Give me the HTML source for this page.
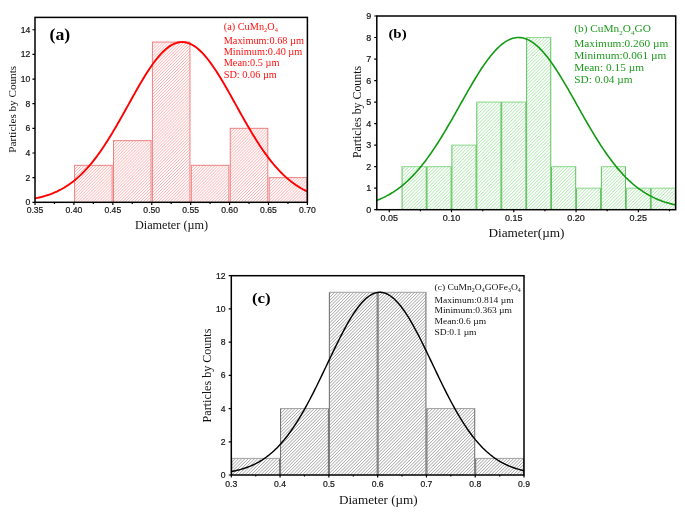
<!DOCTYPE html>
<html><head><meta charset="utf-8"><style>
html,body{margin:0;padding:0;background:#fff;overflow:hidden;}
svg{display:block;will-change:transform;filter:blur(0.25px);}

</style></head><body>
<svg width="685" height="517" viewBox="0 0 685 517">
<rect width="685" height="517" fill="#fff"/>
<defs><pattern id="ha" patternUnits="userSpaceOnUse" width="2.1" height="10" patternTransform="rotate(45)"><rect x="0" y="0" width="0.75" height="10" fill="#ffb2b2"/></pattern></defs>
<rect x="74.6" y="165.32" width="37.55" height="36.98" fill="url(#ha)"/>
<path d="M74.6,202.3V165.32M112.15,165.32V202.3" stroke="#ee8080" stroke-width="1.0" fill="none"/>
<path d="M74.1,165.32H112.65" stroke="#ee8080" stroke-width="1.0" fill="none"/>
<rect x="113.51" y="140.67" width="37.55" height="61.63" fill="url(#ha)"/>
<path d="M113.51,202.3V140.67M151.06,140.67V202.3" stroke="#ee8080" stroke-width="1.0" fill="none"/>
<path d="M113.01,140.67H151.56" stroke="#ee8080" stroke-width="1.0" fill="none"/>
<rect x="152.42" y="42.05" width="37.55" height="160.25" fill="url(#ha)"/>
<path d="M152.42,202.3V42.05M189.98,42.05V202.3" stroke="#ee8080" stroke-width="1.0" fill="none"/>
<path d="M151.92,42.05H190.48" stroke="#ee8080" stroke-width="1.0" fill="none"/>
<rect x="191.34" y="165.32" width="37.55" height="36.98" fill="url(#ha)"/>
<path d="M191.34,202.3V165.32M228.89,165.32V202.3" stroke="#ee8080" stroke-width="1.0" fill="none"/>
<path d="M190.84,165.32H229.39" stroke="#ee8080" stroke-width="1.0" fill="none"/>
<rect x="230.25" y="128.34" width="37.55" height="73.96" fill="url(#ha)"/>
<path d="M230.25,202.3V128.34M267.8,128.34V202.3" stroke="#ee8080" stroke-width="1.0" fill="none"/>
<path d="M229.75,128.34H268.3" stroke="#ee8080" stroke-width="1.0" fill="none"/>
<rect x="269.17" y="177.65" width="37.55" height="24.65" fill="url(#ha)"/>
<path d="M269.17,202.3V177.65M306.72,177.65V202.3" stroke="#ee8080" stroke-width="1.0" fill="none"/>
<path d="M268.67,177.65H307.22" stroke="#ee8080" stroke-width="1.0" fill="none"/>
<polyline points="35,198.41 36.36,198.14 37.72,197.84 39.09,197.53 40.45,197.21 41.81,196.86 43.17,196.49 44.53,196.1 45.9,195.69 47.26,195.26 48.62,194.8 49.98,194.32 51.34,193.82 52.71,193.28 54.07,192.72 55.43,192.13 56.79,191.52 58.15,190.87 59.52,190.19 60.88,189.48 62.24,188.73 63.6,187.96 64.96,187.14 66.33,186.29 67.69,185.41 69.05,184.48 70.41,183.52 71.77,182.52 73.14,181.48 74.5,180.39 75.86,179.27 77.22,178.1 78.58,176.89 79.95,175.64 81.31,174.34 82.67,173 84.03,171.61 85.39,170.18 86.76,168.71 88.12,167.18 89.48,165.61 90.84,164 92.2,162.34 93.57,160.64 94.93,158.89 96.29,157.09 97.65,155.26 99.01,153.37 100.38,151.45 101.74,149.48 103.1,147.48 104.46,145.43 105.82,143.34 107.19,141.22 108.55,139.06 109.91,136.86 111.27,134.64 112.63,132.38 114,130.09 115.36,127.77 116.72,125.43 118.08,123.07 119.44,120.68 120.81,118.28 122.17,115.86 123.53,113.43 124.89,110.99 126.25,108.54 127.62,106.09 128.98,103.63 130.34,101.18 131.7,98.73 133.06,96.29 134.43,93.87 135.79,91.46 137.15,89.06 138.51,86.69 139.87,84.34 141.24,82.03 142.6,79.74 143.96,77.5 145.32,75.29 146.68,73.12 148.05,71.01 149.41,68.94 150.77,66.93 152.13,64.97 153.49,63.07 154.86,61.24 156.22,59.48 157.58,57.78 158.94,56.16 160.3,54.61 161.67,53.15 163.03,51.76 164.39,50.46 165.75,49.24 167.11,48.12 168.48,47.08 169.84,46.14 171.2,45.29 172.56,44.54 173.92,43.88 175.29,43.33 176.65,42.87 178.01,42.51 179.37,42.26 180.73,42.1 182.1,42.05 183.46,42.1 184.82,42.26 186.18,42.51 187.54,42.87 188.91,43.33 190.27,43.88 191.63,44.54 192.99,45.29 194.35,46.14 195.72,47.08 197.08,48.12 198.44,49.24 199.8,50.46 201.16,51.76 202.53,53.15 203.89,54.61 205.25,56.16 206.61,57.78 207.97,59.48 209.34,61.24 210.7,63.07 212.06,64.97 213.42,66.93 214.78,68.94 216.15,71.01 217.51,73.12 218.87,75.29 220.23,77.5 221.59,79.74 222.96,82.03 224.32,84.34 225.68,86.69 227.04,89.06 228.4,91.46 229.77,93.87 231.13,96.29 232.49,98.73 233.85,101.18 235.21,103.63 236.58,106.09 237.94,108.54 239.3,110.99 240.66,113.43 242.02,115.86 243.39,118.28 244.75,120.68 246.11,123.07 247.47,125.43 248.83,127.77 250.2,130.09 251.56,132.38 252.92,134.64 254.28,136.86 255.64,139.06 257.01,141.22 258.37,143.34 259.73,145.43 261.09,147.48 262.45,149.48 263.82,151.45 265.18,153.37 266.54,155.26 267.9,157.09 269.26,158.89 270.63,160.64 271.99,162.34 273.35,164 274.71,165.61 276.07,167.18 277.44,168.71 278.8,170.18 280.16,171.61 281.52,173 282.88,174.34 284.25,175.64 285.61,176.89 286.97,178.1 288.33,179.27 289.69,180.39 291.06,181.48 292.42,182.52 293.78,183.52 295.14,184.48 296.5,185.41 297.87,186.29 299.23,187.14 300.59,187.96 301.95,188.73 303.31,189.48 304.68,190.19 306.04,190.87 307.4,191.52" fill="none" stroke="#ff0000" stroke-width="1.9" stroke-linejoin="round"/>
<rect x="35" y="17.4" width="272.4" height="184.9" fill="none" stroke="#000" stroke-width="1.5"/>
<path d="M35,202.3h-2.6M35,177.65h-2.6M35,152.99h-2.6M35,128.34h-2.6M35,103.69h-2.6M35,79.03h-2.6M35,54.38h-2.6M35,29.73h-2.6M35,202.3v2.6M73.91,202.3v2.6M112.83,202.3v2.6M151.74,202.3v2.6M190.66,202.3v2.6M229.57,202.3v2.6M268.49,202.3v2.6M307.4,202.3v2.6M54.46,202.3v1.6M93.37,202.3v1.6M132.29,202.3v1.6M171.2,202.3v1.6M210.11,202.3v1.6M249.03,202.3v1.6M287.94,202.3v1.6" stroke="#000" stroke-width="1.2" fill="none"/>
<text x="30.2" y="205.31" text-anchor="end" font-family="Liberation Sans, sans-serif" font-size="8.6" fill="#151515" stroke="#151515" stroke-width="0.2">0</text>
<text x="30.2" y="180.66" text-anchor="end" font-family="Liberation Sans, sans-serif" font-size="8.6" fill="#151515" stroke="#151515" stroke-width="0.2">2</text>
<text x="30.2" y="156" text-anchor="end" font-family="Liberation Sans, sans-serif" font-size="8.6" fill="#151515" stroke="#151515" stroke-width="0.2">4</text>
<text x="30.2" y="131.35" text-anchor="end" font-family="Liberation Sans, sans-serif" font-size="8.6" fill="#151515" stroke="#151515" stroke-width="0.2">6</text>
<text x="30.2" y="106.7" text-anchor="end" font-family="Liberation Sans, sans-serif" font-size="8.6" fill="#151515" stroke="#151515" stroke-width="0.2">8</text>
<text x="30.2" y="82.04" text-anchor="end" font-family="Liberation Sans, sans-serif" font-size="8.6" fill="#151515" stroke="#151515" stroke-width="0.2">10</text>
<text x="30.2" y="57.39" text-anchor="end" font-family="Liberation Sans, sans-serif" font-size="8.6" fill="#151515" stroke="#151515" stroke-width="0.2">12</text>
<text x="30.2" y="32.74" text-anchor="end" font-family="Liberation Sans, sans-serif" font-size="8.6" fill="#151515" stroke="#151515" stroke-width="0.2">14</text>
<text x="35" y="212.8" text-anchor="middle" font-family="Liberation Sans, sans-serif" font-size="8.6" fill="#151515" stroke="#151515" stroke-width="0.2">0.35</text>
<text x="73.91" y="212.8" text-anchor="middle" font-family="Liberation Sans, sans-serif" font-size="8.6" fill="#151515" stroke="#151515" stroke-width="0.2">0.40</text>
<text x="112.83" y="212.8" text-anchor="middle" font-family="Liberation Sans, sans-serif" font-size="8.6" fill="#151515" stroke="#151515" stroke-width="0.2">0.45</text>
<text x="151.74" y="212.8" text-anchor="middle" font-family="Liberation Sans, sans-serif" font-size="8.6" fill="#151515" stroke="#151515" stroke-width="0.2">0.50</text>
<text x="190.66" y="212.8" text-anchor="middle" font-family="Liberation Sans, sans-serif" font-size="8.6" fill="#151515" stroke="#151515" stroke-width="0.2">0.55</text>
<text x="229.57" y="212.8" text-anchor="middle" font-family="Liberation Sans, sans-serif" font-size="8.6" fill="#151515" stroke="#151515" stroke-width="0.2">0.60</text>
<text x="268.49" y="212.8" text-anchor="middle" font-family="Liberation Sans, sans-serif" font-size="8.6" fill="#151515" stroke="#151515" stroke-width="0.2">0.65</text>
<text x="307.4" y="212.8" text-anchor="middle" font-family="Liberation Sans, sans-serif" font-size="8.6" fill="#151515" stroke="#151515" stroke-width="0.2">0.70</text>
<defs><pattern id="hb" patternUnits="userSpaceOnUse" width="2.35" height="10" patternTransform="rotate(45)"><rect x="0" y="0" width="0.8" height="10" fill="#b2eab2"/></pattern></defs>
<rect x="402.08" y="166.66" width="24.16" height="43.04" fill="url(#hb)"/>
<path d="M402.08,209.7V166.66M426.24,166.66V209.7" stroke="#5ec25e" stroke-width="1.0" fill="none"/>
<path d="M401.58,166.66H426.74" stroke="#92da92" stroke-width="1.1" fill="none"/>
<rect x="426.99" y="166.66" width="24.16" height="43.04" fill="url(#hb)"/>
<path d="M426.99,209.7V166.66M451.15,166.66V209.7" stroke="#5ec25e" stroke-width="1.0" fill="none"/>
<path d="M426.49,166.66H451.65" stroke="#92da92" stroke-width="1.1" fill="none"/>
<rect x="451.9" y="145.13" width="24.16" height="64.57" fill="url(#hb)"/>
<path d="M451.9,209.7V145.13M476.06,145.13V209.7" stroke="#5ec25e" stroke-width="1.0" fill="none"/>
<path d="M451.4,145.13H476.56" stroke="#92da92" stroke-width="1.1" fill="none"/>
<rect x="476.81" y="102.09" width="24.16" height="107.61" fill="url(#hb)"/>
<path d="M476.81,209.7V102.09M500.97,102.09V209.7" stroke="#5ec25e" stroke-width="1.0" fill="none"/>
<path d="M476.31,102.09H501.47" stroke="#92da92" stroke-width="1.1" fill="none"/>
<rect x="501.72" y="102.09" width="24.16" height="107.61" fill="url(#hb)"/>
<path d="M501.72,209.7V102.09M525.88,102.09V209.7" stroke="#5ec25e" stroke-width="1.0" fill="none"/>
<path d="M501.22,102.09H526.38" stroke="#92da92" stroke-width="1.1" fill="none"/>
<rect x="526.62" y="37.52" width="24.16" height="172.18" fill="url(#hb)"/>
<path d="M526.62,209.7V37.52M550.78,37.52V209.7" stroke="#5ec25e" stroke-width="1.0" fill="none"/>
<path d="M526.12,37.52H551.28" stroke="#92da92" stroke-width="1.1" fill="none"/>
<rect x="551.53" y="166.66" width="24.16" height="43.04" fill="url(#hb)"/>
<path d="M551.53,209.7V166.66M575.69,166.66V209.7" stroke="#5ec25e" stroke-width="1.0" fill="none"/>
<path d="M551.03,166.66H576.19" stroke="#92da92" stroke-width="1.1" fill="none"/>
<rect x="576.44" y="188.18" width="24.16" height="21.52" fill="url(#hb)"/>
<path d="M576.44,209.7V188.18M600.6,188.18V209.7" stroke="#5ec25e" stroke-width="1.0" fill="none"/>
<path d="M575.94,188.18H601.1" stroke="#92da92" stroke-width="1.1" fill="none"/>
<rect x="601.35" y="166.66" width="24.16" height="43.04" fill="url(#hb)"/>
<path d="M601.35,209.7V166.66M625.51,166.66V209.7" stroke="#5ec25e" stroke-width="1.0" fill="none"/>
<path d="M600.85,166.66H626.01" stroke="#92da92" stroke-width="1.1" fill="none"/>
<rect x="626.26" y="188.18" width="24.16" height="21.52" fill="url(#hb)"/>
<path d="M626.26,209.7V188.18M650.42,188.18V209.7" stroke="#5ec25e" stroke-width="1.0" fill="none"/>
<path d="M625.76,188.18H650.92" stroke="#92da92" stroke-width="1.1" fill="none"/>
<rect x="651.17" y="188.18" width="24.16" height="21.52" fill="url(#hb)"/>
<path d="M651.17,209.7V188.18M675.33,188.18V209.7" stroke="#5ec25e" stroke-width="1.0" fill="none"/>
<path d="M650.67,188.18H675.83" stroke="#92da92" stroke-width="1.1" fill="none"/>
<polyline points="376.8,200.4 378.29,199.82 379.79,199.2 381.28,198.55 382.78,197.87 384.27,197.15 385.77,196.41 387.26,195.62 388.76,194.8 390.25,193.94 391.75,193.04 393.24,192.11 394.73,191.13 396.23,190.11 397.72,189.05 399.22,187.94 400.71,186.79 402.21,185.6 403.7,184.36 405.2,183.07 406.69,181.73 408.18,180.35 409.68,178.92 411.17,177.44 412.67,175.91 414.16,174.33 415.66,172.71 417.15,171.03 418.65,169.3 420.14,167.52 421.64,165.7 423.13,163.82 424.62,161.89 426.12,159.92 427.61,157.9 429.11,155.83 430.6,153.71 432.1,151.55 433.59,149.35 435.09,147.1 436.58,144.81 438.07,142.48 439.57,140.11 441.06,137.71 442.56,135.27 444.05,132.8 445.55,130.3 447.04,127.76 448.54,125.21 450.03,122.63 451.53,120.03 453.02,117.41 454.51,114.78 456.01,112.13 457.5,109.48 459,106.82 460.49,104.16 461.99,101.5 463.48,98.85 464.98,96.2 466.47,93.57 467.96,90.95 469.46,88.35 470.95,85.78 472.45,83.23 473.94,80.72 475.44,78.24 476.93,75.8 478.43,73.4 479.92,71.05 481.42,68.75 482.91,66.51 484.4,64.33 485.9,62.2 487.39,60.15 488.89,58.16 490.38,56.24 491.88,54.41 493.37,52.65 494.87,50.98 496.36,49.39 497.85,47.89 499.35,46.48 500.84,45.17 502.34,43.96 503.83,42.84 505.33,41.83 506.82,40.92 508.32,40.11 509.81,39.41 511.31,38.82 512.8,38.34 514.29,37.97 515.79,37.71 517.28,37.56 518.78,37.52 520.27,37.6 521.77,37.78 523.26,38.08 524.76,38.49 526.25,39.01 527.74,39.63 529.24,40.37 530.73,41.21 532.23,42.15 533.72,43.2 535.22,44.35 536.71,45.6 538.21,46.94 539.7,48.38 541.2,49.91 542.69,51.53 544.18,53.23 545.68,55.01 547.17,56.87 548.67,58.81 550.16,60.82 551.66,62.9 553.15,65.05 554.65,67.25 556.14,69.51 557.63,71.83 559.13,74.2 560.62,76.61 562.12,79.06 563.61,81.55 565.11,84.08 566.6,86.64 568.1,89.22 569.59,91.82 571.09,94.44 572.58,97.08 574.07,99.73 575.57,102.39 577.06,105.05 578.56,107.71 580.05,110.36 581.55,113.02 583.04,115.66 584.54,118.28 586.03,120.9 587.52,123.49 589.02,126.06 590.51,128.61 592.01,131.13 593.5,133.63 595,136.09 596.49,138.51 597.99,140.91 599.48,143.26 600.98,145.58 602.47,147.85 603.96,150.09 605.46,152.28 606.95,154.42 608.45,156.52 609.94,158.58 611.44,160.58 612.93,162.54 614.43,164.45 615.92,166.31 617.41,168.12 618.91,169.88 620.4,171.59 621.9,173.25 623.39,174.87 624.89,176.43 626.38,177.94 627.88,179.4 629.37,180.82 630.87,182.18 632.36,183.5 633.85,184.77 635.35,186 636.84,187.18 638.34,188.31 639.83,189.41 641.33,190.45 642.82,191.46 644.32,192.42 645.81,193.35 647.3,194.23 648.8,195.08 650.29,195.89 651.79,196.66 653.28,197.4 654.78,198.1 656.27,198.77 657.77,199.41 659.26,200.02 660.75,200.59 662.25,201.14 663.74,201.66 665.24,202.16 666.73,202.62 668.23,203.07 669.72,203.49 671.22,203.88 672.71,204.26 674.21,204.61 675.7,204.95" fill="none" stroke="#129a12" stroke-width="1.6" stroke-linejoin="round"/>
<rect x="376.8" y="16" width="298.9" height="193.7" fill="none" stroke="#000" stroke-width="1.5"/>
<path d="M376.8,209.7h-2.6M376.8,188.18h-2.6M376.8,166.66h-2.6M376.8,145.13h-2.6M376.8,123.61h-2.6M376.8,102.09h-2.6M376.8,80.57h-2.6M376.8,59.04h-2.6M376.8,37.52h-2.6M376.8,16h-2.6M389.25,209.7v2.6M451.53,209.7v2.6M513.8,209.7v2.6M576.07,209.7v2.6M638.34,209.7v2.6M420.39,209.7v1.6M482.66,209.7v1.6M544.93,209.7v1.6M607.2,209.7v1.6M669.47,209.7v1.6" stroke="#000" stroke-width="1.2" fill="none"/>
<text x="371.2" y="212.85" text-anchor="end" font-family="Liberation Sans, sans-serif" font-size="9" fill="#151515" stroke="#151515" stroke-width="0.2">0</text>
<text x="371.2" y="191.33" text-anchor="end" font-family="Liberation Sans, sans-serif" font-size="9" fill="#151515" stroke="#151515" stroke-width="0.2">1</text>
<text x="371.2" y="169.81" text-anchor="end" font-family="Liberation Sans, sans-serif" font-size="9" fill="#151515" stroke="#151515" stroke-width="0.2">2</text>
<text x="371.2" y="148.28" text-anchor="end" font-family="Liberation Sans, sans-serif" font-size="9" fill="#151515" stroke="#151515" stroke-width="0.2">3</text>
<text x="371.2" y="126.76" text-anchor="end" font-family="Liberation Sans, sans-serif" font-size="9" fill="#151515" stroke="#151515" stroke-width="0.2">4</text>
<text x="371.2" y="105.24" text-anchor="end" font-family="Liberation Sans, sans-serif" font-size="9" fill="#151515" stroke="#151515" stroke-width="0.2">5</text>
<text x="371.2" y="83.72" text-anchor="end" font-family="Liberation Sans, sans-serif" font-size="9" fill="#151515" stroke="#151515" stroke-width="0.2">6</text>
<text x="371.2" y="62.19" text-anchor="end" font-family="Liberation Sans, sans-serif" font-size="9" fill="#151515" stroke="#151515" stroke-width="0.2">7</text>
<text x="371.2" y="40.67" text-anchor="end" font-family="Liberation Sans, sans-serif" font-size="9" fill="#151515" stroke="#151515" stroke-width="0.2">8</text>
<text x="371.2" y="19.15" text-anchor="end" font-family="Liberation Sans, sans-serif" font-size="9" fill="#151515" stroke="#151515" stroke-width="0.2">9</text>
<text x="389.25" y="221" text-anchor="middle" font-family="Liberation Sans, sans-serif" font-size="9" fill="#151515" stroke="#151515" stroke-width="0.2">0.05</text>
<text x="451.53" y="221" text-anchor="middle" font-family="Liberation Sans, sans-serif" font-size="9" fill="#151515" stroke="#151515" stroke-width="0.2">0.10</text>
<text x="513.8" y="221" text-anchor="middle" font-family="Liberation Sans, sans-serif" font-size="9" fill="#151515" stroke="#151515" stroke-width="0.2">0.15</text>
<text x="576.07" y="221" text-anchor="middle" font-family="Liberation Sans, sans-serif" font-size="9" fill="#151515" stroke="#151515" stroke-width="0.2">0.20</text>
<text x="638.34" y="221" text-anchor="middle" font-family="Liberation Sans, sans-serif" font-size="9" fill="#151515" stroke="#151515" stroke-width="0.2">0.25</text>
<defs><pattern id="hc" patternUnits="userSpaceOnUse" width="2.26" height="10" patternTransform="rotate(45)"><rect x="0" y="0" width="0.7" height="10" fill="#a2a2a2"/></pattern></defs>
<rect x="231.79" y="458.39" width="47.81" height="16.61" fill="url(#hc)"/>
<path d="M231.79,475V458.39M279.6,458.39V475" stroke="#6a6a6a" stroke-width="1.0" fill="none"/>
<path d="M231.29,458.39H280.1" stroke="#a0a0a0" stroke-width="1.0" fill="none"/>
<rect x="280.57" y="408.57" width="47.81" height="66.43" fill="url(#hc)"/>
<path d="M280.57,475V408.57M328.38,408.57V475" stroke="#6a6a6a" stroke-width="1.0" fill="none"/>
<path d="M280.07,408.57H328.88" stroke="#a0a0a0" stroke-width="1.0" fill="none"/>
<rect x="329.35" y="292.31" width="47.81" height="182.69" fill="url(#hc)"/>
<path d="M329.35,475V292.31M377.16,292.31V475" stroke="#6a6a6a" stroke-width="1.0" fill="none"/>
<path d="M328.85,292.31H377.66" stroke="#a0a0a0" stroke-width="1.0" fill="none"/>
<rect x="378.14" y="292.31" width="47.81" height="182.69" fill="url(#hc)"/>
<path d="M378.14,475V292.31M425.95,292.31V475" stroke="#6a6a6a" stroke-width="1.0" fill="none"/>
<path d="M377.64,292.31H426.45" stroke="#a0a0a0" stroke-width="1.0" fill="none"/>
<rect x="426.92" y="408.57" width="47.81" height="66.43" fill="url(#hc)"/>
<path d="M426.92,475V408.57M474.73,408.57V475" stroke="#6a6a6a" stroke-width="1.0" fill="none"/>
<path d="M426.42,408.57H475.23" stroke="#a0a0a0" stroke-width="1.0" fill="none"/>
<rect x="475.7" y="458.39" width="47.81" height="16.61" fill="url(#hc)"/>
<path d="M475.7,475V458.39M523.51,458.39V475" stroke="#6a6a6a" stroke-width="1.0" fill="none"/>
<path d="M475.2,458.39H524.01" stroke="#a0a0a0" stroke-width="1.0" fill="none"/>
<polyline points="231.3,471.57 232.76,471.29 234.23,470.99 235.69,470.67 237.15,470.33 238.62,469.97 240.08,469.58 241.54,469.17 243.01,468.73 244.47,468.27 245.94,467.77 247.4,467.25 248.86,466.69 250.33,466.1 251.79,465.47 253.25,464.81 254.72,464.11 256.18,463.38 257.64,462.6 259.11,461.78 260.57,460.91 262.03,460.01 263.5,459.05 264.96,458.05 266.42,457 267.89,455.89 269.35,454.74 270.81,453.53 272.28,452.27 273.74,450.96 275.21,449.58 276.67,448.15 278.13,446.66 279.6,445.11 281.06,443.5 282.52,441.83 283.99,440.1 285.45,438.3 286.91,436.44 288.38,434.52 289.84,432.54 291.3,430.49 292.77,428.38 294.23,426.21 295.69,423.98 297.16,421.68 298.62,419.33 300.08,416.92 301.55,414.45 303.01,411.92 304.48,409.34 305.94,406.7 307.4,404.01 308.87,401.28 310.33,398.5 311.79,395.67 313.26,392.81 314.72,389.9 316.18,386.96 317.65,383.99 319.11,380.99 320.57,377.97 322.04,374.93 323.5,371.87 324.96,368.81 326.43,365.73 327.89,362.65 329.35,359.58 330.82,356.51 332.28,353.45 333.75,350.42 335.21,347.4 336.67,344.41 338.14,341.46 339.6,338.54 341.06,335.67 342.53,332.84 343.99,330.07 345.45,327.37 346.92,324.72 348.38,322.15 349.84,319.65 351.31,317.24 352.77,314.91 354.23,312.67 355.7,310.52 357.16,308.48 358.62,306.54 360.09,304.71 361.55,303 363.02,301.4 364.48,299.92 365.94,298.56 367.41,297.33 368.87,296.23 370.33,295.26 371.8,294.43 373.26,293.73 374.72,293.17 376.19,292.75 377.65,292.47 379.11,292.33 380.58,292.33 382.04,292.47 383.5,292.75 384.97,293.17 386.43,293.73 387.89,294.43 389.36,295.26 390.82,296.23 392.29,297.33 393.75,298.56 395.21,299.92 396.68,301.4 398.14,303 399.6,304.71 401.07,306.54 402.53,308.48 403.99,310.52 405.46,312.67 406.92,314.91 408.38,317.24 409.85,319.65 411.31,322.15 412.77,324.72 414.24,327.37 415.7,330.07 417.16,332.84 418.63,335.67 420.09,338.54 421.56,341.46 423.02,344.41 424.48,347.4 425.95,350.42 427.41,353.45 428.87,356.51 430.34,359.58 431.8,362.65 433.26,365.73 434.73,368.81 436.19,371.87 437.65,374.93 439.12,377.97 440.58,380.99 442.04,383.99 443.51,386.96 444.97,389.9 446.43,392.81 447.9,395.67 449.36,398.5 450.82,401.28 452.29,404.01 453.75,406.7 455.22,409.34 456.68,411.92 458.14,414.45 459.61,416.92 461.07,419.33 462.53,421.68 464,423.98 465.46,426.21 466.92,428.38 468.39,430.49 469.85,432.54 471.31,434.52 472.78,436.44 474.24,438.3 475.7,440.1 477.17,441.83 478.63,443.5 480.09,445.11 481.56,446.66 483.02,448.15 484.49,449.58 485.95,450.96 487.41,452.27 488.88,453.53 490.34,454.74 491.8,455.89 493.27,457 494.73,458.05 496.19,459.05 497.66,460.01 499.12,460.91 500.58,461.78 502.05,462.6 503.51,463.38 504.97,464.11 506.44,464.81 507.9,465.47 509.36,466.1 510.83,466.69 512.29,467.25 513.76,467.77 515.22,468.27 516.68,468.73 518.15,469.17 519.61,469.58 521.07,469.97 522.54,470.33 524,470.67" fill="none" stroke="#000" stroke-width="1.45" stroke-linejoin="round"/>
<rect x="231.3" y="275.7" width="292.7" height="199.3" fill="none" stroke="#000" stroke-width="1.5"/>
<path d="M231.3,475h-2.6M231.3,441.78h-2.6M231.3,408.57h-2.6M231.3,375.35h-2.6M231.3,342.13h-2.6M231.3,308.92h-2.6M231.3,275.7h-2.6M231.3,475v2.6M280.08,475v2.6M328.87,475v2.6M377.65,475v2.6M426.43,475v2.6M475.22,475v2.6M524,475v2.6M255.69,475v1.6M304.47,475v1.6M353.26,475v1.6M402.04,475v1.6M450.82,475v1.6M499.61,475v1.6" stroke="#000" stroke-width="1.2" fill="none"/>
<text x="225.6" y="478.01" text-anchor="end" font-family="Liberation Sans, sans-serif" font-size="8.6" fill="#151515" stroke="#151515" stroke-width="0.2">0</text>
<text x="225.6" y="444.79" text-anchor="end" font-family="Liberation Sans, sans-serif" font-size="8.6" fill="#151515" stroke="#151515" stroke-width="0.2">2</text>
<text x="225.6" y="411.58" text-anchor="end" font-family="Liberation Sans, sans-serif" font-size="8.6" fill="#151515" stroke="#151515" stroke-width="0.2">4</text>
<text x="225.6" y="378.36" text-anchor="end" font-family="Liberation Sans, sans-serif" font-size="8.6" fill="#151515" stroke="#151515" stroke-width="0.2">6</text>
<text x="225.6" y="345.14" text-anchor="end" font-family="Liberation Sans, sans-serif" font-size="8.6" fill="#151515" stroke="#151515" stroke-width="0.2">8</text>
<text x="225.6" y="311.93" text-anchor="end" font-family="Liberation Sans, sans-serif" font-size="8.6" fill="#151515" stroke="#151515" stroke-width="0.2">10</text>
<text x="225.6" y="278.71" text-anchor="end" font-family="Liberation Sans, sans-serif" font-size="8.6" fill="#151515" stroke="#151515" stroke-width="0.2">12</text>
<text x="231.3" y="486.9" text-anchor="middle" font-family="Liberation Sans, sans-serif" font-size="8.6" fill="#151515" stroke="#151515" stroke-width="0.2">0.3</text>
<text x="280.08" y="486.9" text-anchor="middle" font-family="Liberation Sans, sans-serif" font-size="8.6" fill="#151515" stroke="#151515" stroke-width="0.2">0.4</text>
<text x="328.87" y="486.9" text-anchor="middle" font-family="Liberation Sans, sans-serif" font-size="8.6" fill="#151515" stroke="#151515" stroke-width="0.2">0.5</text>
<text x="377.65" y="486.9" text-anchor="middle" font-family="Liberation Sans, sans-serif" font-size="8.6" fill="#151515" stroke="#151515" stroke-width="0.2">0.6</text>
<text x="426.43" y="486.9" text-anchor="middle" font-family="Liberation Sans, sans-serif" font-size="8.6" fill="#151515" stroke="#151515" stroke-width="0.2">0.7</text>
<text x="475.22" y="486.9" text-anchor="middle" font-family="Liberation Sans, sans-serif" font-size="8.6" fill="#151515" stroke="#151515" stroke-width="0.2">0.8</text>
<text x="524" y="486.9" text-anchor="middle" font-family="Liberation Sans, sans-serif" font-size="8.6" fill="#151515" stroke="#151515" stroke-width="0.2">0.9</text>
<text x="49.49" y="40.4" font-family="Liberation Serif, serif" font-weight="bold" font-size="15.8" fill="#000" textLength="20.73" lengthAdjust="spacingAndGlyphs" >(a)</text>
<text x="388.4" y="37.8" font-family="Liberation Serif, serif" font-weight="bold" font-size="13" fill="#000" textLength="18.23" lengthAdjust="spacingAndGlyphs" >(b)</text>
<text x="251.92" y="302.9" font-family="Liberation Serif, serif" font-weight="bold" font-size="14.7" fill="#000" textLength="18.75" lengthAdjust="spacingAndGlyphs" >(c)</text>
<text transform="translate(16,109.3) rotate(-90)" x="0" y="0" text-anchor="middle" font-family="Liberation Serif, serif" font-size="11.2" fill="#111" textLength="86.75" lengthAdjust="spacingAndGlyphs">Particles by Counts</text>
<text transform="translate(361,112) rotate(-90)" x="0" y="0" text-anchor="middle" font-family="Liberation Serif, serif" font-size="11.8" fill="#111" textLength="92.1" lengthAdjust="spacingAndGlyphs">Particles by Counts</text>
<text transform="translate(211.3,375.5) rotate(-90)" x="0" y="0" text-anchor="middle" font-family="Liberation Serif, serif" font-size="12" fill="#111" textLength="93.81" lengthAdjust="spacingAndGlyphs">Particles by Counts</text>
<text x="134.93" y="228.6" font-family="Liberation Serif, serif" font-weight="normal" font-size="11.5" fill="#111" textLength="73.16" lengthAdjust="spacingAndGlyphs" >Diameter (µm)</text>
<text x="488.4" y="237.3" font-family="Liberation Serif, serif" font-weight="normal" font-size="12.4" fill="#111" textLength="76.13" lengthAdjust="spacingAndGlyphs" >Diameter(µm)</text>
<text x="338.91" y="503.8" font-family="Liberation Serif, serif" font-weight="normal" font-size="12.6" fill="#111" textLength="78.83" lengthAdjust="spacingAndGlyphs" >Diameter (µm)</text>
<g transform="translate(223.7,0) scale(1.01,1)">
<text x="0" y="29.9" font-family="Liberation Serif, serif" font-size="10.2" fill="#ff1010">(a) CuMn<tspan font-size="6.32" baseline-shift="-2.45">2</tspan>O<tspan font-size="6.32" baseline-shift="-2.45">4</tspan></text>
<text x="0" y="43.7" font-family="Liberation Serif, serif" font-size="10.2" fill="#ff1010">Maximum:0.68 µm</text>
<text x="0" y="54.9" font-family="Liberation Serif, serif" font-size="10.2" fill="#ff1010">Minimum:0.40 µm</text>
<text x="0" y="66.5" font-family="Liberation Serif, serif" font-size="10.2" fill="#ff1010">Mean:0.5 µm</text>
<text x="0" y="78.4" font-family="Liberation Serif, serif" font-size="10.2" fill="#ff1010">SD: 0.06 µm</text>
</g>
<g transform="translate(574.2,0) scale(1.07,1)">
<text x="0" y="32.3" font-family="Liberation Serif, serif" font-size="10.6" fill="#1f9a1f">(b) CuMn<tspan font-size="6.57" baseline-shift="-2.54">2</tspan>O<tspan font-size="6.57" baseline-shift="-2.54">4</tspan>GO</text>
<text x="0" y="46.6" font-family="Liberation Serif, serif" font-size="10.6" fill="#1f9a1f">Maximum:0.260 µm</text>
<text x="0" y="58.7" font-family="Liberation Serif, serif" font-size="10.6" fill="#1f9a1f">Minimum:0.061 µm</text>
<text x="0" y="71.2" font-family="Liberation Serif, serif" font-size="10.6" fill="#1f9a1f">Mean: 0.15 µm</text>
<text x="0" y="83.3" font-family="Liberation Serif, serif" font-size="10.6" fill="#1f9a1f">SD: 0.04 µm</text>
</g>
<g transform="translate(434.5,0) scale(1.06,1)">
<text x="0" y="289.8" font-family="Liberation Serif, serif" font-size="9" fill="#111">(c) CuMn<tspan font-size="5.58" baseline-shift="-2.16">2</tspan>O<tspan font-size="5.58" baseline-shift="-2.16">4</tspan>GOFe<tspan font-size="5.58" baseline-shift="-2.16">3</tspan>O<tspan font-size="5.58" baseline-shift="-2.16">4</tspan></text>
<text x="0" y="302.6" font-family="Liberation Serif, serif" font-size="9" fill="#111">Maximum:0.814 µm</text>
<text x="0" y="313.5" font-family="Liberation Serif, serif" font-size="9" fill="#111">Minimum:0.363 µm</text>
<text x="0" y="324.2" font-family="Liberation Serif, serif" font-size="9" fill="#111">Mean:0.6 µm</text>
<text x="0" y="334.9" font-family="Liberation Serif, serif" font-size="9" fill="#111">SD:0.1 µm</text>
</g>
</svg>
</body></html>
